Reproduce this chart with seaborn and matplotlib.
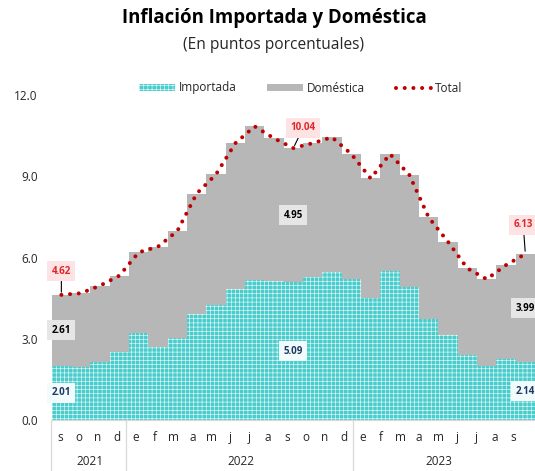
import numpy as np
import pandas as pd
import matplotlib
matplotlib.use("Agg")
import matplotlib.pyplot as plt
import matplotlib.transforms as mtransforms
from matplotlib.patches import Patch
from matplotlib.lines import Line2D
import seaborn as sns

# ---------------- data ----------------
periods = ["2021-09", "2021-10", "2021-11", "2021-12",
           "2022-01", "2022-02", "2022-03", "2022-04", "2022-05", "2022-06",
           "2022-07", "2022-08", "2022-09", "2022-10", "2022-11", "2022-12",
           "2023-01", "2023-02", "2023-03", "2023-04", "2023-05", "2023-06",
           "2023-07", "2023-08", "2023-09"]
month_labels = ["s", "o", "n", "d",
                "e", "f", "m", "a", "m", "j", "j", "a", "s", "o", "n", "d",
                "e", "f", "m", "a", "m", "j", "j", "a", "s"]
years = ["2021", "2022", "2023"]
importada = [2.01, 1.94, 2.14, 2.51, 3.20, 2.71, 3.04, 3.91, 4.23, 4.85, 5.17, 5.13,
             5.09, 5.27, 5.45, 5.19, 4.49, 5.49, 4.92, 3.72, 3.14, 2.40, 1.99, 2.24, 2.14]
domestica = [2.61, 2.74, 2.82, 2.82, 2.99, 3.69, 3.94, 4.45, 4.84, 5.37, 5.67, 5.27,
             4.95, 4.95, 4.99, 4.63, 4.43, 4.33, 4.13, 3.76, 3.44, 3.20, 3.21, 3.48, 3.99]
total = [4.62, 4.68, 4.96, 5.33, 6.19, 6.40, 6.98, 8.36, 9.07, 10.22, 10.84, 10.40,
         10.04, 10.22, 10.44, 9.82, 8.92, 9.82, 9.05, 7.48, 6.58, 5.60, 5.20, 5.72, 6.13]
labeled_idx = [0, 12, 24]

df = pd.DataFrame({"periodo": periods, "importada": importada, "domestica": domestica,
                   "total": total})
df["apilado"] = df["importada"] + df["domestica"]
df["pos"] = np.arange(len(df))

# ---------------- style ----------------
sns.set_style("white")
FONT = ["Open Sans", "DejaVu Sans"]
plt.rcParams["font.family"] = FONT
plt.rcParams["hatch.linewidth"] = 0.4

CYAN = "#4ACCCC"
GRAY = "#B7B7B7"
RED = "#C00000"
TXT = "#262626"
HATCH = "++++"

fig = plt.figure(figsize=(5.35, 4.71), dpi=100)
W, H = 535, 471
ax_left, ax_right, ax_top, ax_bot = 51.7, 535, 95, 420
ax = fig.add_axes([ax_left / W, 1 - ax_bot / H, (ax_right - ax_left) / W, (ax_bot - ax_top) / H])

# stacked bars: domestic on top of imported (gray drawn to stacked height)
sns.barplot(data=df, x="periodo", y="apilado", color=GRAY, width=1.0, saturation=1,
            linewidth=0, ax=ax, zorder=1)
sns.barplot(data=df, x="periodo", y="importada", color=CYAN, width=1.0, saturation=1,
            linewidth=0, edgecolor="#F4FFFF", hatch=HATCH, ax=ax, zorder=2)
sns.lineplot(data=df, x="pos", y="total", color=RED, linewidth=2.9,
             linestyle=(0, (0.01, 2.15)), dash_capstyle="round", ax=ax, zorder=4,
             legend=False)

ax.set_xlim(-0.5, len(df) - 0.5)
ax.set_ylim(0, 12)
ax.set_xlabel("")
ax.set_ylabel("")
ax.set_xticks([])
ax.set_yticks([0, 3, 6, 9, 12])
ax.set_yticklabels([f"{v:.1f}" for v in [0, 3, 6, 9, 12]], fontsize=8.5, color=TXT)
ax.tick_params(axis="y", length=0, pad=10)
for s in ["top", "right", "left"]:
    ax.spines[s].set_visible(False)
ax.spines["bottom"].set_color("#D9D9D9")
ax.spines["bottom"].set_linewidth(0.9)

# data labels
def seg_label(x, y, text, color, bg):
    ax.text(x, y, text, ha="center", va="center", fontsize=7, fontweight="bold",
            color=color, zorder=6,
            bbox=dict(boxstyle="square,pad=0.45", fc=bg, ec="none"))

tot_offsets = {0: (0, 17), 12: (7, 14.5), 24: (-1.5, 21)}
for i in labeled_idx:
    seg_label(i, importada[i] / 2, f"{importada[i]:.2f}", "#1F3864", "#F2FBFB")
    seg_label(i, importada[i] + domestica[i] / 2, f"{domestica[i]:.2f}", "#000000", "#E6E6E6")
    ax.annotate(f"{total[i]:.2f}", xy=(i, total[i]), xytext=tot_offsets[i],
                textcoords="offset points", ha="center", va="center", fontsize=7,
                fontweight="bold", color="#E0262B", zorder=7, annotation_clip=False,
                bbox=dict(boxstyle="square,pad=0.45", fc="#FDE3E3", ec="none"),
                arrowprops=dict(arrowstyle="-", color="black", lw=0.8,
                                shrinkA=0, shrinkB=2))

# category axis for labels (slightly different scale, as in the source)
ax2 = ax.twiny()
ax2.set_xlim(-0.44, 25.13)
ax2.xaxis.set_ticks_position("bottom")
ax2.set_xticks(np.arange(len(month_labels)))
ax2.set_xticklabels(month_labels, fontsize=8.5, color=TXT)
ax2.tick_params(axis="x", length=0, pad=8)
for s in ax2.spines.values():
    s.set_visible(False)
trans = mtransforms.blended_transform_factory(ax2.transData, ax2.transAxes)
year_bounds = [(-0.5, 3.5), (3.5, 15.5), (15.5, 24.5)]
for xb in [-0.5, 3.5, 15.5]:
    ax2.add_line(Line2D([xb, xb], [0, -0.16], transform=trans, color="#D9D9D9",
                        lw=0.9, clip_on=False))
for (a, b), yr in zip(year_bounds, years):
    ax2.text((a + b) / 2 + 0.06, -0.129, yr, transform=trans, ha="center", va="center",
             fontsize=8.5, color=TXT)

# titles
fig.text(0.512, 1 - 18.5 / H, "Inflación Importada y Doméstica", ha="center", va="center",
         fontsize=13.4, fontweight="bold", color="black")
fig.text(0.512, 1 - 45 / H, "(En puntos porcentuales)", ha="center", va="center",
         fontsize=11.2, color=TXT)

# legend
handles = [Patch(facecolor=CYAN, edgecolor="#F4FFFF", hatch=HATCH, linewidth=0),
           Patch(facecolor=GRAY, edgecolor="none"),
           Line2D([0], [0], color=RED, linewidth=2.9, linestyle=(0, (0.01, 2.15)),
                  dash_capstyle="round")]
fig.legend(handles, ["Importada", "Doméstica", "Total"], loc="center",
           bbox_to_anchor=(301 / W, 1 - 88 / H), ncol=3, frameon=False, fontsize=8.5,
           handlelength=3.0, handleheight=0.6, handletextpad=0.35, columnspacing=2.6,
           labelcolor=TXT)

fig.savefig("out.png", dpi=100)
